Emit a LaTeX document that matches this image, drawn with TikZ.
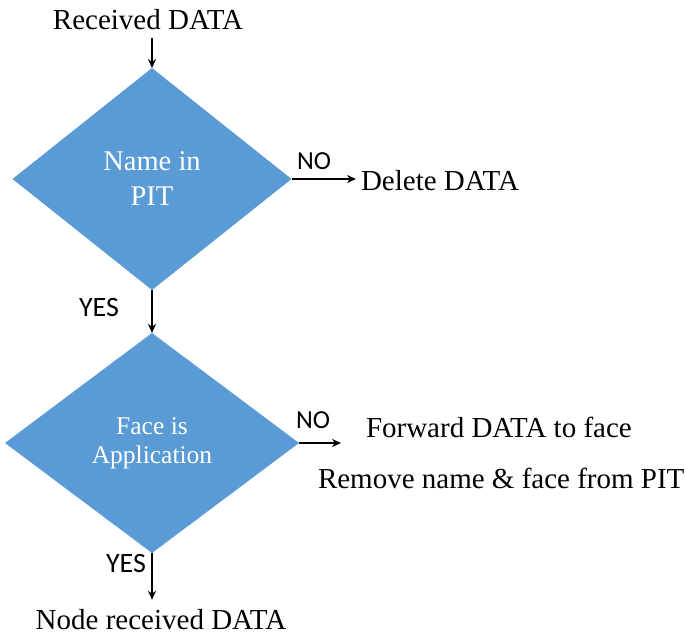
\documentclass[tikz,border=0pt]{standalone}
\usepackage{fontspec}
\setmainfont{Liberation Serif}
\newfontfamily\labelfont{Carlito}
\usetikzlibrary{shapes.geometric,arrows.meta}
\definecolor{decblue}{HTML}{5B9BD5}
\begin{document}
\begin{tikzpicture}[x=1pt,y=-1pt,
  decision/.style={diamond,fill=decblue,draw=none,inner sep=0pt,outer sep=0pt,
    text=white,align=center},
  plain/.style={inner sep=0pt,outer sep=0pt,font=\fontsize{29}{33}\selectfont},
  tag/.style={inner sep=0pt,outer sep=0pt,font=\labelfont\fontsize{28}{30}\selectfont},
  arr/.style={line width=1.7pt,-{Stealth[length=9pt,width=8pt]}}]
\useasboundingbox (0,0) rectangle (686,636);

% decisions
\node[decision,minimum width=279pt,minimum height=222pt,aspect=1.257,
  font=\fontsize{28.5}{35}\selectfont]
  (d1) at (152,179) {Name in\\PIT};
\node[decision,minimum width=294pt,minimum height=220pt,aspect=1.336,
  font=\fontsize{25.5}{29}\selectfont]
  (d2) at (152,443) {Face is\\Application};

% texts
\node[plain] (recv) at (148,20) {Received DATA};
\node[plain,anchor=west] (del) at (361,181) {Delete DATA};
\node[plain,anchor=west] (fwd) at (366,427) {Forward DATA to face};
\node[plain,anchor=west] (rem) at (318,478) {Remove name \& face from PIT};
\node[plain] (out) at (161,620) {Node received DATA};

% branch labels
\node[tag,font=\labelfont\fontsize{26}{28}\selectfont] (no1) at (314,161) {NO};
\node[tag] (yes1) at (99,308) {YES};
\node[tag,font=\labelfont\fontsize{26}{28}\selectfont] (no2) at (313,420) {NO};
\node[tag] (yes2) at (126,564) {YES};

\coordinate (fwdin) at (341,443);

% connectors
\draw[arr,shorten <=8pt] (d1.north |- recv.south) -- (d1.north);
\draw[arr,shorten >=5pt] (d1.east) -- (d1.east -| del.west);
\draw[arr] (d1.south) -- (d2.north);
\draw[arr] (d2.east) -- (fwdin);
\draw[arr,shorten >=10pt] (d2.south) -- (d2.south |- out.north);
\end{tikzpicture}
\end{document}
